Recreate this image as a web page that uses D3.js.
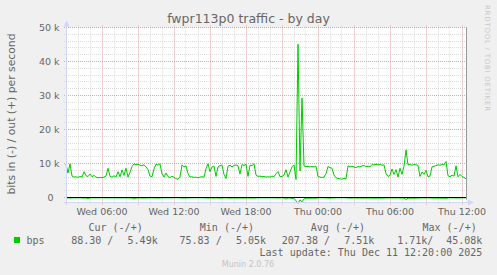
<!DOCTYPE html>
<html><head><meta charset="utf-8">
<script src="https://cdn.jsdelivr.net/npm/d3@7"></script>
<style>html,body{margin:0;padding:0;background:#F0F0F0;} svg{display:block}</style>
</head><body><svg id="c" width="497" height="275"></svg>
<script>
// ---------- data ----------
const title = "fwpr113p0 traffic - by day";
const yAxisTitle = "bits in (-) / out (+) per second";
const startTime = new Date(2025, 11, 10, 3, 0);   // Wed 03:00
const endTime = new Date(2025, 11, 11, 12, 20);   // Thu 12:20
const stepMinutes = 10;
const outValues = [
 9800,7200,9900,6300,6000,6100,5900,6200,6000,7600,
 6400,6200,6900,6100,6500,6000,5800,5900,5800,6000,
 6300,8600,6200,6000,6400,6000,7600,6100,8100,6500,
 8600,6000,7400,9100,9900,9600,9800,9500,9300,9600,
 9000,8200,6300,6100,8400,9800,9500,9900,7000,6000,
 7200,6100,5900,6200,6000,5500,5400,6000,9600,9000,
 9300,7000,6000,6100,5900,6000,5800,6000,6100,6000,
 8500,9900,7600,9000,9200,6200,9000,9400,9500,6800,
 5600,9200,9500,9000,9400,9600,9300,6900,9700,9400,
 9800,6200,9500,9400,9900,6600,6200,6300,6100,6200,
 6000,6100,6000,6300,6100,7000,7600,6100,6200,6600,
 8200,6000,7500,9000,9600,5300,45080,7800,29300,9300,
 9100,9200,9000,9100,9000,9200,6200,6000,5900,6000,
 7000,9100,8800,8600,6600,5800,5600,5500,5400,5600,
 5500,9300,9000,9200,9000,8800,9100,9000,9300,9400,
 9100,9200,9000,9700,9600,9800,9600,9700,9500,9600,
 7000,6200,6500,8400,6800,8200,6000,8600,6800,9200,
 14000,9600,9700,9500,9700,9600,9500,6200,7500,6800,
 8000,6100,6300,9000,9200,9400,9600,9500,9700,9600,
 10600,6400,6100,6600,6300,9300,6100,6800,6200,5900,
 5490];
const inValues = [
 150,120,180,110,100,130,95,110,140,160,
 130,320,120,100,90,110,100,95,105,120,
 110,140,100,95,120,100,130,110,140,100,
 150,110,130,160,460,180,150,140,130,160,
 140,120,100,95,130,160,150,170,120,100,
 110,100,90,95,100,85,80,100,170,150,
 160,120,100,95,90,100,85,95,100,110,
 140,180,130,150,160,110,150,170,160,120,
 90,160,170,150,160,180,150,120,170,160,
 180,110,160,150,180,120,100,95,100,110,
 100,105,95,110,100,130,160,100,110,120,
 520,130,180,260,350,900,1710,700,1250,420,
 250,200,220,180,200,210,120,100,95,100,
 130,180,170,160,110,90,85,80,76,85,
 80,170,160,170,150,140,160,150,170,180,
 160,170,150,190,180,200,170,190,180,170,
 130,110,120,160,130,150,100,170,130,200,
 560,210,190,180,200,190,180,110,140,120,
 150,100,110,170,180,190,200,180,190,200,
 260,110,100,120,105,170,100,130,110,95,
 88.3];
const yTickValues = [0, 10000, 20000, 30000, 40000, 50000];
const yTickLabels = ["0  ", "10 k", "20 k", "30 k", "40 k", "50 k"];
const legendHeaders = ["Cur (-/+)", "Min (-/+)", "Avg (-/+)", "Max (-/+)"];
const legendIn = ["88.30 /", "75.83 /", "207.38 /", "1.71k/"];
const legendOut = ["5.49k", "5.05k", "7.51k", "45.08k"];
const seriesName = "bps";
const lastUpdate = "Last update: Thu Dec 11 12:20:00 2025";
const version = "Munin 2.0.76";
const watermark = "RRDTOOL / TOBI OETIKER";

// ---------- layout ----------
const svg = d3.select("#c");
const L = 66, R = 466, T = 27.5, B = 202.5;
const FONT = "DejaVu Sans, sans-serif";
const MONO = "DejaVu Sans Mono, monospace";
const TXT = "#666666";
const x = d3.scaleTime().domain([startTime, endTime]).range([L, R]);
const y = d3.scaleLinear().domain([-1470, 50000]).range([B, T]);
const times = outValues.map((_, i) => d3.timeMinute.offset(startTime, i * stepMinutes));
const crisp = v => Math.round(v - 0.5) + 0.5;

svg.append("rect").attr("x", L).attr("y", T).attr("width", R - L).attr("height", B - T).attr("fill", "#fff");

// minor grid
const g = svg.append("g");
const hours = d3.timeHour.every(1).range(startTime, endTime);
hours.filter(h => h.getHours() % 3 !== 0).forEach(h => {
  const xx = crisp(x(h));
  g.append("line").attr("x1", xx).attr("x2", xx).attr("y1", T - 2).attr("y2", B + 2)
   .attr("stroke", "#dcdcdc").attr("stroke-dasharray", "1,1");
});
d3.range(0, 50001, 2000).filter(v => v % 10000 !== 0).forEach(v => {
  const yy = crisp(y(v));
  g.append("line").attr("x1", L - 2).attr("x2", R + 2).attr("y1", yy).attr("y2", yy)
   .attr("stroke", "#dcdcdc").attr("stroke-dasharray", "1,1");
});
// major grid
hours.filter(h => h.getHours() % 3 === 0).forEach(h => {
  const xx = crisp(x(h));
  g.append("line").attr("x1", xx).attr("x2", xx).attr("y1", T - 2).attr("y2", B + 2)
   .attr("stroke", "#eaa0a0").attr("stroke-dasharray", "1,1");
});
yTickValues.forEach(v => {
  const yy = crisp(y(v));
  g.append("line").attr("x1", L - 2).attr("x2", R + 2).attr("y1", yy).attr("y2", yy)
   .attr("stroke", "#eaa0a0").attr("stroke-dasharray", "1,1");
});

// series
const lineOut = d3.line().x((d, i) => x(times[i])).y(d => y(d));
const lineIn = d3.line().x((d, i) => x(times[i])).y(d => y(-d));
svg.append("path").attr("d", lineIn(inValues)).attr("fill", "none").attr("stroke", "#00CC00").attr("stroke-width", 1);
svg.append("path").attr("d", lineOut(outValues)).attr("fill", "none").attr("stroke", "#00CC00").attr("stroke-width", 1);

// zero rule
svg.append("line").attr("x1", L).attr("x2", R).attr("y1", crisp(y(0))).attr("y2", crisp(y(0)))
  .attr("stroke", "#000").attr("stroke-width", 1);

// axes
svg.append("line").attr("x1", L + 0.5).attr("x2", L + 0.5).attr("y1", B).attr("y2", T - 3).attr("stroke", "#CFD6F8");
svg.append("line").attr("x1", L - 2).attr("x2", R + 4).attr("y1", B).attr("y2", B).attr("stroke", "#CFD6F8");
svg.append("path").attr("d", `M${L - 2.5},${T - 1}L${L + 3.5},${T - 1}L${L + 0.5},${T - 7}Z`).attr("fill", "#CFD6F8");
svg.append("path").attr("d", `M${R + 2},${B - 3}L${R + 2},${B + 3}L${R + 8},${B}Z`).attr("fill", "#CFD6F8");
svg.append("line").attr("x1", R + 0.5).attr("x2", R + 0.5).attr("y1", T).attr("y2", B - 3).attr("stroke", "#999");

// y labels
yTickValues.forEach((v, i) => {
  svg.append("text").attr("x", 59.5).attr("y", y(v) + 3.5).attr("text-anchor", "end")
    .style("white-space", "pre").attr("font-family", FONT).attr("font-size", "9.5px").attr("fill", TXT)
    .text(yTickLabels[i]);
});
// x labels
hours.filter(h => h.getHours() % 6 === 0).forEach(h => {
  svg.append("text").attr("x", x(h)).attr("y", 215).attr("text-anchor", "middle")
    .attr("font-family", FONT).attr("font-size", "9.5px").attr("fill", TXT)
    .text(d3.timeFormat("%a %H:%M")(h));
});

// titles
svg.append("text").attr("x", 248.5).attr("y", 22.5).attr("text-anchor", "middle")
  .attr("font-family", FONT).attr("font-size", "12.5px").attr("fill", TXT).text(title);
svg.append("text").attr("transform", "translate(14.5,114) rotate(-90)").attr("text-anchor", "middle")
  .attr("font-family", FONT).attr("font-size", "10.8px").attr("fill", TXT).text(yAxisTitle);
svg.append("text").attr("transform", "translate(484.5,5) rotate(90)").attr("text-anchor", "start")
  .attr("font-family", FONT).attr("font-size", "7px").attr("fill", "#c8c8c8")
  .attr("textLength", 106).attr("lengthAdjust", "spacing").text(watermark);

// legend
const headerEnds = [142.7, 254, 365, 476.7];
const inEnds = [113.3, 221.7, 330, 433.3];
const outEnds = [157.7, 266, 374.3, 482.3];
const lt = (xx, yy, s, anchor) => svg.append("text").attr("x", xx).attr("y", yy).attr("text-anchor", anchor || "end")
  .style("white-space", "pre").attr("font-family", MONO).attr("font-size", "10px").attr("fill", TXT).text(s);
legendHeaders.forEach((s, i) => lt(headerEnds[i], 230.5, s));
svg.append("rect").attr("x", 14).attr("y", 237).attr("width", 6).attr("height", 6).attr("fill", "#00CC00");
lt(26.5, 243.5, seriesName, "start");
legendIn.forEach((s, i) => lt(inEnds[i], 243.5, s));
legendOut.forEach((s, i) => lt(outEnds[i], 243.5, s));
lt(482.3, 255.5, lastUpdate);
svg.append("text").attr("x", 248).attr("y", 267).attr("text-anchor", "middle")
  .attr("font-family", FONT).attr("font-size", "8px").attr("fill", "#c4c4c4").text(version);
</script></body></html>
